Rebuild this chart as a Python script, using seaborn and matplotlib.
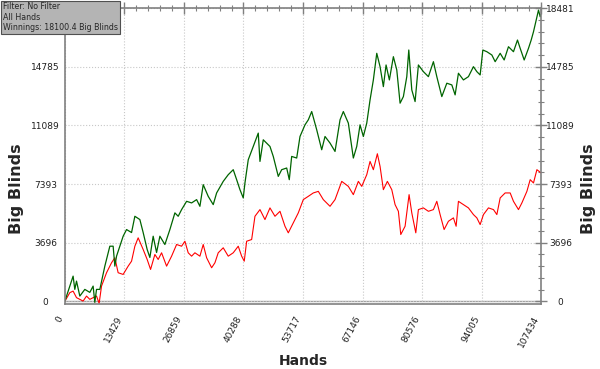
import numpy as np
import pandas as pd
import matplotlib
matplotlib.use("Agg")
import matplotlib.pyplot as plt
from matplotlib.ticker import AutoMinorLocator
import seaborn as sns

# Winnings line (green)
green_hands = [0, 1873, 2257, 2641, 3386, 4514, 5643, 6387, 6771, 7155, 7900, 9028, 10157,
               10901, 11285, 11669, 13158, 13926, 15054, 15799, 16928, 17672, 18575, 19185,
               19929, 20697, 21442, 22570, 23699, 24827, 25572, 26339, 27468, 28596, 29725,
               30470, 31214, 32343, 33471, 34239, 35728, 36857, 37985, 38753, 39498, 40242,
               40626, 41371, 42499, 43628, 44012, 44756, 46269, 47013, 48142, 48909, 50038,
               50625, 51166, 52295, 53040, 54168, 54913, 55680, 56809, 57937, 58682, 59811,
               60939, 62068, 62812, 63941, 65069, 65837, 66582, 67326, 68094, 68839, 69583,
               70351, 71096, 71840, 72450, 73195, 74097, 74865, 75610, 76354, 77122, 77573,
               78250, 78995, 79740, 80868, 81997, 83125, 83893, 85021, 86150, 87278, 88023,
               88768, 89896, 91025, 92153, 92921, 93666, 94275, 95178, 96306, 97051, 98180,
               99082, 100053, 101181, 102084, 102694, 103596, 104567, 105176, 105695, 106305,
               106824, 107208, 107434]
green_bb = [0, 1590, 754, 1276, 333, 754, 566, 962, -63, 754, 754, 2219, 3476,
            3476, 2219, 2848, 4105, 4526, 4337, 5362, 5155, 4337, 3269, 2766,
            4105, 3080, 4105, 3583, 4526, 5576, 5362, 5783, 6305, 6204, 6412,
            5991, 7355, 6619, 6097, 6833, 7562, 7983, 8298, 7669, 7040, 6519,
            7462, 8926, 9762, 10604, 8819, 10183, 9762, 9134, 7876, 8298, 8404,
            7669, 9134, 9033, 10391, 11126, 11441, 11962, 10812, 9555, 10391, 9976,
            9448, 11441, 11962, 11233, 9033, 9762, 11126, 10391, 11233, 12698, 13955,
            15633, 14791, 13534, 14898, 13955, 15420, 14584, 12490, 12905, 14162, 15841,
            13326, 12591, 14898, 14477, 14162, 15105, 14162, 12905, 13748, 13641, 13012,
            14376, 13955, 14162, 14791, 14477, 14269, 15841, 15734, 15526, 15105, 15633,
            15212, 16048, 15734, 16469, 15948, 15212, 15948, 16469, 16991, 17727,
            18355, 17934, 18100.4]

# Second line (red)
red_hands = [0, 1129, 1873, 2641, 3386, 4130, 4898, 5643, 6387, 7155, 7742, 8283, 9412,
             10540, 11285, 12030, 13158, 14287, 15054, 15799, 16544, 17672, 18575, 19342,
             20313, 21058, 21825, 22954, 24082, 25211, 26339, 27084, 27829, 28596, 29341,
             30470, 31214, 31982, 33110, 33855, 34599, 35728, 36857, 37985, 39114, 39881,
             40468, 41010, 42138, 42883, 44012, 45140, 46269, 47397, 48526, 49654, 50399,
             51527, 52656, 53784, 54913, 56041, 57170, 58298, 59811, 60939, 62451, 63941,
             65069, 66198, 66965, 68094, 68839, 69583, 70486, 71096, 71840, 72743, 73736,
             74481, 75226, 75767, 76738, 77641, 78250, 79153, 79740, 80868, 81997, 83125,
             83893, 84638, 85540, 86511, 87639, 88249, 88768, 89896, 91025, 92153, 92921,
             93666, 94410, 95539, 96667, 97435, 98180, 99308, 100437, 101181, 102310,
             103077, 104206, 104950, 105695, 106463, 107434]
red_bb = [0, 547, 647, 233, 126, 19, 333, 126, 233, 333, -126, 962, 1804,
          2433, 2747, 1804, 1697, 2219, 2533, 3476, 4004, 3269, 2640, 2012,
          2954, 2640, 3061, 2219, 2848, 3583, 3476, 3790, 3061, 2848, 3061,
          2848, 3583, 2747, 2118, 2433, 3061, 3376, 2848, 3061, 3476, 2848,
          2533, 3790, 3897, 5362, 5783, 5155, 5890, 5362, 5676, 4733, 4319,
          4947, 5576, 6412, 6619, 6833, 6933, 6412, 5991, 6412, 7562, 7248,
          6726, 7562, 7248, 7983, 8819, 8298, 9303, 8505, 7040, 7562, 7040,
          6097, 5676, 4212, 4733, 6726, 5576, 4319, 5783, 5890, 5676, 5783,
          6305, 5469, 4526, 5048, 5261, 4733, 6305, 6097, 5890, 5469, 5261,
          4840, 5469, 5890, 5783, 5469, 6519, 6833, 6833, 6305, 5783,
          6204, 6933, 7669, 7462, 8298, 8090]

x_ticks = [0, 13429, 26859, 40288, 53717, 67146, 80576, 94005, 107434]
y_ticks = [0, 3696, 7393, 11089, 14785, 18481]

green_df = pd.DataFrame({"Hands": green_hands, "BB": green_bb})
red_df = pd.DataFrame({"Hands": red_hands, "BB": red_bb})

sns.set_style("white")
plt.rcParams['font.family'] = ['DejaVu Sans']

fig = plt.figure(figsize=(6, 3.69), dpi=100)
ax = fig.add_axes([0.108, 0.176, 0.794, 0.802])

sns.lineplot(data=red_df, x="Hands", y="BB", color="#ff0000", linewidth=0.8, ax=ax)
sns.lineplot(data=green_df, x="Hands", y="BB", color="#006400", linewidth=0.9, ax=ax)

ax.set_xlim(0, 107434)
ax.set_ylim(-170, 18481)
ax.set_xticks(x_ticks)
ax.set_xticklabels([str(t) for t in x_ticks], rotation=62, ha="right", fontsize=6.5)
ax.set_yticks(y_ticks)
ax.set_yticklabels([str(t) for t in y_ticks], fontsize=6.5)
ax.xaxis.set_minor_locator(AutoMinorLocator(5))
ax.yaxis.set_minor_locator(AutoMinorLocator(5))
ax.tick_params(which="major", direction="inout", length=8, width=1, color="#808080",
               top=True, right=True, labelright=True, labelcolor="#202020")
ax.tick_params(axis="y", which="major", pad=10)
ax.tick_params(which="minor", direction="inout", length=4, width=0.8, color="#808080",
               top=True, right=True)
for t in ax.yaxis.get_major_ticks():
    t.label1.set_horizontalalignment("center")
    t.label2.set_horizontalalignment("center")
# the filter box covers the top-left label
ax.yaxis.get_major_ticks()[-1].label1.set_visible(False)
ax.grid(True, which="major", linestyle=":", color="#c8c8c8", linewidth=0.8)
ax.axhline(0, color="#a0a0a0", linewidth=1, zorder=0)
for s in ax.spines.values():
    s.set_color("#808080")
    s.set_linewidth(1.2)

ax.set_xlabel("Hands", fontsize=10, fontweight="bold", labelpad=4)
ax.set_ylabel("")
fig.text(0.028, 0.49, "Big Blinds", rotation=90, fontsize=11.5, fontweight="bold",
         ha="center", va="center")
fig.text(0.98, 0.49, "Big Blinds", rotation=90, fontsize=11.5, fontweight="bold",
         ha="center", va="center")

fig.text(0.005, 0.994, "Filter: No Filter\nAll Hands\nWinnings: 18100.4 Big Blinds",
         fontsize=5.7, va="top", ha="left", linespacing=1.2,
         bbox=dict(boxstyle="square,pad=0.2", facecolor="#b4b4b4", edgecolor="#505050", linewidth=0.8))

fig.savefig("out.png", dpi=100)
